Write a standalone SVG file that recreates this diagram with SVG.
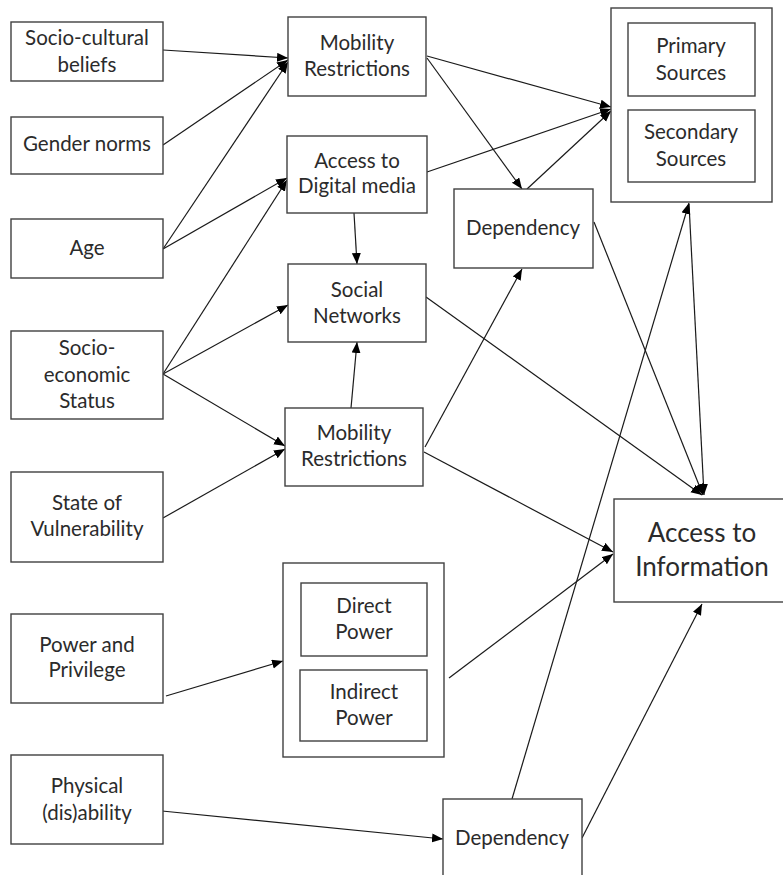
<svg xmlns="http://www.w3.org/2000/svg" width="783" height="875" viewBox="0 0 783 875">
<style>
rect{fill:#fff;stroke:#404040;stroke-width:1.4}
text{font-family:Lato,"Open Sans","Liberation Sans",sans-serif;font-size:20.5px;fill:#2b2b2b;text-anchor:middle}
.big{font-size:26px}
#connectors line{stroke:#1a1a1a;stroke-width:1.2;marker-end:url(#ah)}
</style>
<defs>
<marker id="ah" markerUnits="userSpaceOnUse" markerWidth="12" markerHeight="10" refX="11" refY="4.5" orient="auto">
<path d="M0,0 L11,4.5 L0,9 Z" fill="#000"/>
</marker>
</defs>
<rect x="0" y="0" width="783" height="875" style="stroke:none"/>
<g id="connectors">
<line x1="163" y1="50" x2="288" y2="58"/>
<line x1="163" y1="145" x2="288" y2="60"/>
<line x1="163" y1="249" x2="288" y2="62"/>
<line x1="163" y1="249" x2="287" y2="178"/>
<line x1="163" y1="374" x2="287" y2="180"/>
<line x1="163" y1="374" x2="288" y2="305"/>
<line x1="163" y1="374" x2="285" y2="446"/>
<line x1="163" y1="518" x2="285" y2="449"/>
<line x1="166" y1="696" x2="283" y2="661"/>
<line x1="162" y1="811" x2="443" y2="839"/>
<line x1="427" y1="56" x2="611" y2="107"/>
<line x1="427" y1="58" x2="522" y2="189"/>
<line x1="427" y1="172" x2="611" y2="109"/>
<line x1="527" y1="189" x2="611" y2="111"/>
<line x1="354" y1="213" x2="357" y2="264"/>
<line x1="351" y1="408" x2="357" y2="342"/>
<line x1="426" y1="297" x2="702" y2="495"/>
<line x1="594" y1="222" x2="703" y2="495"/>
<line x1="689" y1="204" x2="704" y2="495"/>
<line x1="512" y1="799" x2="689" y2="203"/>
<line x1="425" y1="447" x2="522" y2="269"/>
<line x1="424" y1="452" x2="613" y2="552"/>
<line x1="449" y1="678" x2="613" y2="554"/>
<line x1="582" y1="838" x2="702" y2="604"/>
</g>
<g id="n-sociocultural"><rect x="11" y="22" width="152" height="59"/><text x="87" y="45">Socio-cultural</text><text x="87" y="72">beliefs</text></g>
<g id="n-gender"><rect x="11" y="117" width="152" height="57"/><text x="87" y="151">Gender norms</text></g>
<g id="n-age"><rect x="11" y="219" width="152" height="59"/><text x="87" y="255">Age</text></g>
<g id="n-socioeconomic"><rect x="11" y="331" width="152" height="88"/><text x="87" y="355">Socio-</text><text x="87" y="382">economic</text><text x="87" y="408">Status</text></g>
<g id="n-vulnerability"><rect x="11" y="472" width="152" height="90"/><text x="87" y="510">State of</text><text x="87" y="536">Vulnerability</text></g>
<g id="n-power"><rect x="11" y="614" width="152" height="89"/><text x="87" y="652">Power and</text><text x="87" y="677">Privilege</text></g>
<g id="n-physical"><rect x="11" y="755" width="152" height="89"/><text x="87" y="793">Physical</text><text x="87" y="820">(dis)ability</text></g>
<g id="n-mobility1"><rect x="288" y="17" width="138" height="79"/><text x="357" y="50">Mobility</text><text x="357" y="76">Restrictions</text></g>
<g id="n-digital"><rect x="287" y="136" width="140" height="77"/><text x="357" y="168">Access to</text><text x="357" y="193">Digital media</text></g>
<g id="n-social"><rect x="288" y="264" width="138" height="78"/><text x="357" y="297">Social</text><text x="357" y="323">Networks</text></g>
<g id="n-mobility2"><rect x="285" y="408" width="138" height="78"/><text x="354" y="440">Mobility</text><text x="354" y="466">Restrictions</text></g>
<g id="n-dependency1"><rect x="454" y="189" width="139" height="79"/><text x="523" y="235">Dependency</text></g>
<g id="n-sources"><rect x="611" y="8" width="161" height="194"/>
<rect x="628" y="23" width="127" height="73"/><text x="691" y="53">Primary</text><text x="691" y="80">Sources</text>
<rect x="628" y="110" width="127" height="72"/><text x="691" y="139">Secondary</text><text x="691" y="166">Sources</text></g>
<g id="n-powertypes"><rect x="283" y="563" width="161" height="194"/>
<rect x="301" y="583" width="126" height="73"/><text x="364" y="613">Direct</text><text x="364" y="639">Power</text>
<rect x="300" y="670" width="127" height="71"/><text x="364" y="699">Indirect</text><text x="364" y="725">Power</text></g>
<g id="n-dependency2"><rect x="443" y="799" width="139" height="82"/><text x="512" y="845">Dependency</text></g>
<g id="n-access"><rect x="614" y="499" width="176" height="103"/><text class="big" x="702" y="542">Access to</text><text class="big" x="702" y="576">Information</text></g>
</svg>
